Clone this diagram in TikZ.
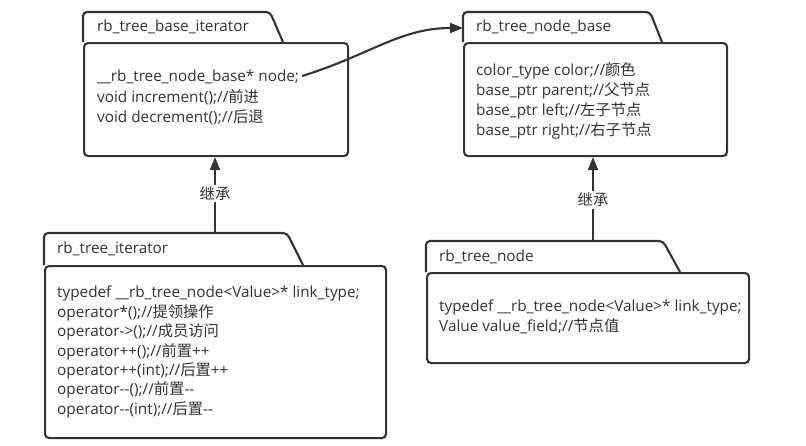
\documentclass[tikz,border=0pt]{standalone}
\usepackage{fontspec}
\setmainfont{Open Sans}
\newfontfamily\cjk{Noto Sans CJK SC}
\usetikzlibrary{arrows.meta}
\newcommand{\hz}[1]{{\cjk #1}}
\newcommand{\dd}{\mbox{-}\mbox{-}}
\definecolor{ink}{HTML}{333333}
\tikzset{
  frame/.style={draw=ink, line width=2.1pt, rounded corners=4pt},
  bodybox/.style={frame, anchor=north west, inner sep=0pt},
  title/.style={anchor=west, inner sep=0pt, text=ink, font=\fontsize{15.3}{20}\selectfont},
  lines/.style={anchor=north west, inner sep=0pt, align=left, text=ink, font=\fontsize{15.3}{20}\selectfont},
  link/.style={draw=ink, line width=2.1pt, -{Triangle[length=13pt,width=10pt]}},
  lbl/.style={fill=white, inner sep=2pt, text=ink, font=\fontsize{15.3}{18}\selectfont\cjk}
}
\begin{document}
\begin{tikzpicture}[x=1pt,y=-1pt]
\useasboundingbox (0,0) rectangle (806,445);
% box 1
\node[bodybox, minimum width=264pt, minimum height=113pt] (b1) at (83,42) {};
\draw[frame] (b1.north west) -- (83,12) -- (270,12) [sharp corners] -- (283,42);
\node[title] (t1) at (97,27) {rb\_tree\_base\_iterator};
\node[lines, font=\fontsize{15.3}{20.5}\selectfont] (l1) at (97,70) {\_\_rb\_tree\_node\_base* node;\\void increment();//\hz{前进}\\void decrement();//\hz{后退}};
% box 2
\node[bodybox, minimum width=263pt, minimum height=113pt] (b2) at (463,42) {};
\draw[frame] (b2.north west) -- (463,12) -- (650,12) [sharp corners] -- (662,42);
\node[title] (t2) at (476,27) {rb\_tree\_node\_base};
\node[lines] (l2) at (476,62) {color\_type color;//\hz{颜色}\\base\_ptr parent;//\hz{父节点}\\base\_ptr left;//\hz{左子节点}\\base\_ptr right;//\hz{右子节点}};
% box 3
\node[bodybox, minimum width=341pt, minimum height=172pt] (b3) at (44,265) {};
\draw[frame] (b3.north west) -- (44,233) -- (287,233) [sharp corners] -- (303,265);
\node[title] (t3) at (57,249) {rb\_tree\_iterator};
\node[lines, font=\fontsize{15.3}{19.4}\selectfont] (l3) at (57,286) {typedef \_\_rb\_tree\_node<Value>* link\_type;\\operator*();//\hz{提领操作}\\operator->();//\hz{成员访问}\\operator++();//\hz{前置}++\\operator++(int);//\hz{后置}++\\operator\dd();//\hz{前置}\dd\\operator\dd(int);//\hz{后置}\dd};
% box 4
\node[bodybox, minimum width=322pt, minimum height=90pt] (b4) at (426,272) {};
\draw[frame] (b4.north west) -- (426,241) -- (663,241) [sharp corners] -- (680,272);
\node[title] (t4) at (439,257) {rb\_tree\_node};
\node[lines] (l4) at (439,300) {typedef \_\_rb\_tree\_node<Value>* link\_type;\\Value value\_field;//\hz{节点值}};
% connectors
\coordinate (s3) at (215,233);
\coordinate (s4) at (593,241);
\draw[link] (s3) -- node[lbl, pos=0.52] (k1) {继承} (s3 |- b1.south);
\draw[link] (s4) -- node[lbl, pos=0.49] (k2) {继承} (s4 |- b2.south);
\coordinate (p0) at (302,76);
\coordinate (p1) at (463,28);
\draw[link] (p0) .. controls (370,55) and (400,28) .. (p1);
\end{tikzpicture}
\end{document}
